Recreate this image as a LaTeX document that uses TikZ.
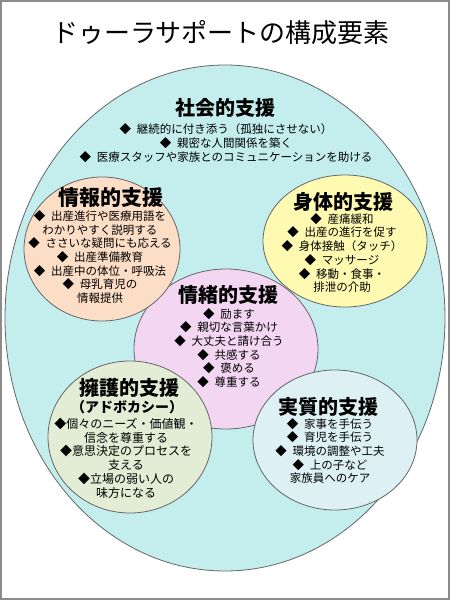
\documentclass[tikz,border=0pt]{standalone}
\usepackage{fontspec}
\setmainfont{Noto Sans CJK JP}
\definecolor{outerc}{RGB}{196,238,238}
\definecolor{infoc}{RGB}{252,221,198}
\definecolor{bodyc}{RGB}{255,250,178}
\definecolor{emoc}{RGB}{243,214,242}
\definecolor{advc}{RGB}{227,237,214}
\definecolor{realc}{RGB}{221,241,245}
\newcommand{\itm}{◆\enspace}
\tikzset{
  area/.style={draw=black!60, line width=0.8pt},
  head/.style={font=\fontsize{20}{24}\selectfont\bfseries, inner sep=0pt},
  items/.style={align=center, font=\fontsize{11.5}{13.7}\selectfont, inner sep=0pt},
}
\begin{document}
\begin{tikzpicture}[x=1pt,y=-1pt]
    \useasboundingbox (0,0) rectangle (450,600);
    \draw[black!45, line width=2pt] (1,1) rectangle (449,599);
    % title
    \node[inner sep=0pt] (title) at (221,33)
        {\fontsize{26}{30}\selectfont ドゥーラサポートの構成要素};
    % outer area: social support
    \draw[area, fill=outerc] (225,318) ellipse [x radius=220, y radius=253];
    \node[head] (social) at (225,108) {社会的支援};
    \node[items] (socialtxt) at (226,143)
        {\itm 継続的に付き添う（孤独にさせない）\\
         \itm 親密な人間関係を築く\\
         \itm 医療スタッフや家族とのコミュニケーションを助ける};
    % emotional (drawn first, the others overlap it)
    \draw[area, fill=emoc] (226,349) ellipse [x radius=92, y radius=80];
    % informational
    \draw[area, fill=infoc] (102,249) ellipse [x radius=78, y radius=72];
    % physical
    \draw[area, fill=bodyc] (345,241) ellipse [x radius=82, y radius=66];
    % advocacy
    \draw[area, fill=advc] (130,437) ellipse [x radius=82, y radius=76];
    % practical
    \draw[area, fill=realc] (335,440) ellipse [x radius=82, y radius=70];
    % texts
    \node[head, font=\fontsize{21}{24}\selectfont\bfseries] (info) at (111,198) {情報的支援};
    \node[items] (infotxt) at (100,257)
        {\itm 出産進行や医療用語を\\
         わかりやすく説明する\\
         \itm ささいな疑問にも応える\\
         \itm 出産準備教育\\
         \itm 出産中の体位・呼吸法\\
         \itm 母乳育児の\\
         情報提供};
    \node[head] (body) at (343,202) {身体的支援};
    \node[items] (bodytxt) at (342,253)
        {\itm 産痛緩和\\
         \itm 出産の進行を促す\\
         \itm 身体接触（タッチ）\\
         \itm マッサージ\\
         \itm 移動・食事・\\
         排泄の介助};
    \node[head] (emo) at (228,295) {情緒的支援};
    \node[items] (emotxt) at (229,348)
        {\itm 励ます\\
         \itm 親切な言葉かけ\\
         \itm 大丈夫と請け合う\\
         \itm 共感する\\
         \itm 褒める\\
         \itm 尊重する};
    \node[head] (adv) at (129,388) {擁護的支援};
    \node[inner sep=0pt, font=\fontsize{14}{16}\selectfont\bfseries] (advsub) at (127,407) {（アドボカシー）};
    \node[items, font=\fontsize{12}{13.8}\selectfont] (advtxt) at (126,458)
        {◆個々のニーズ・価値観・\\
         信念を尊重する\\
         ◆意思決定のプロセスを\\
         支える\\
         ◆立場の弱い人の\\
         味方になる};
    \node[head] (real) at (328,407) {実質的支援};
    \node[items] (realtxt) at (330,451)
        {\itm 家事を手伝う\\
         \itm 育児を手伝う\\
         \itm 環境の調整や工夫\\
         \itm 上の子など\\
         家族員へのケア};
\end{tikzpicture}
\end{document}
